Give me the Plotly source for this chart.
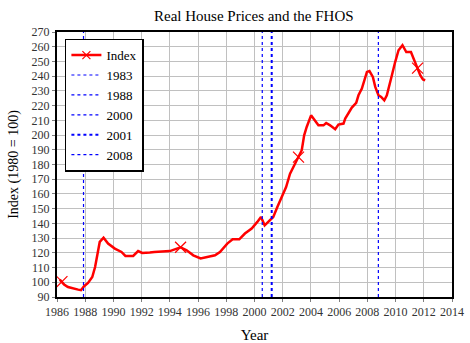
import plotly.graph_objects as go

# Real house price index (1980 = 100), read at irregular dates
years = [1986.2, 1986.35, 1986.5, 1986.78, 1987.1, 1987.5, 1987.7, 1987.92, 1988.2, 1988.5,
         1988.7, 1988.87, 1989.03, 1989.3, 1989.62, 1990.1, 1990.57, 1990.85, 1991.4, 1991.75,
         1992.04, 1992.58, 1992.9, 1994.0, 1994.76, 1995.19, 1995.66, 1996.18, 1997.2, 1997.55,
         1998.07, 1998.45, 1998.92, 1999.32, 1999.8, 2000.2, 2000.46, 2000.72, 2000.98, 2001.33,
         2001.62, 2001.93, 2002.24, 2002.52, 2002.88, 2003.12, 2003.35, 2003.52, 2003.7, 2004.01,
         2004.3, 2004.53, 2004.89, 2005.08, 2005.36, 2005.72, 2005.95, 2006.31, 2006.43, 2006.9,
         2007.21, 2007.37, 2007.61, 2007.8, 2007.97, 2008.15, 2008.39, 2008.56, 2008.79, 2008.98,
         2009.2, 2009.38, 2009.55, 2009.74, 2009.97, 2010.21, 2010.49, 2010.76, 2011.09, 2011.35,
         2011.56, 2011.75, 2011.94, 2012.1]
index_values = [101.8, 100.4, 98.5, 96.8, 95.8, 95.0, 94.6, 97.3, 99.5, 103.6,
                110.4, 119.5, 127.4, 130.3, 126.3, 122.9, 120.6, 117.9, 117.9, 121.2,
                119.9, 120.2, 120.6, 121.2, 123.8, 121.7, 118.3, 116.2, 118.3, 120.6,
                126.3, 129.2, 129.2, 133.1, 136.5, 141.0, 144.4, 138.7, 141.0, 144.4,
                151.1, 157.9, 164.7, 173.8, 180.6, 185.0, 189.7, 199.8, 205.5, 213.4,
                210.0, 206.6, 206.6, 208.2, 206.6, 203.9, 207.1, 207.8, 211.2, 218.7,
                221.8, 227.0, 231.6, 237.2, 242.9, 243.5, 239.5, 232.7, 227.0, 225.9,
                223.6, 227.0, 232.7, 240.6, 249.6, 257.6, 261.0, 256.4, 256.4, 249.6,
                245.5, 240.6, 237.7, 237.2]
marker_years = [1986.35, 1994.76, 2003.12, 2011.56]

# Event markers shown as vertical lines
event_labels = ["1983", "1988", "2000", "2001", "2008"]
event_years = [1983.0, 1987.88, 2000.55, 2001.22, 2008.78]

x_ticks = list(range(1986, 2015, 2))
y_ticks = list(range(90, 271, 10))

SERIF = "Liberation Serif"
RED = "#ff0000"
BLUE = "#0000ff"

fig = go.Figure()

# Legend-only entry for the index (line with cross marker)
fig.add_trace(go.Scatter(
    x=[None], y=[None], mode="lines+markers", name="Index",
    line=dict(color=RED, width=2.5),
    marker=dict(symbol="x-thin", size=8, line=dict(color=RED, width=1.2)),
    legendgroup="idx", showlegend=True,
))
fig.add_trace(go.Scatter(
    x=years, y=index_values, mode="lines", name="Index",
    line=dict(color=RED, width=2.5), legendgroup="idx", showlegend=False,
))
mk_y = [v for x, v in zip(years, index_values) if x in marker_years]
mk_x = [x for x in years if x in marker_years]
fig.add_trace(go.Scatter(
    x=mk_x, y=mk_y, mode="markers", name="Index",
    marker=dict(symbol="x-thin", size=11, line=dict(color=RED, width=1.2)),
    legendgroup="idx", showlegend=False,
))

for lbl, yr in zip(event_labels, event_years):
    fig.add_trace(go.Scatter(
        x=[yr, yr], y=[90, 270], mode="lines", name=lbl,
        line=dict(color=BLUE, width=2 if lbl == "2001" else 1.2, dash="dot"),
    ))

axis_common = dict(
    showgrid=True, gridcolor="#c0c0c0", gridwidth=1,
    showline=True, linecolor="black", linewidth=2, mirror=True,
    zeroline=False, ticks="outside", ticklen=3, tickcolor="#808080",
    tickfont=dict(family=SERIF, size=12, color="#333333"),
    automargin=False,
)

fig.update_layout(
    width=470, height=343,
    margin=dict(l=57, r=18, t=32, b=46),
    paper_bgcolor="white", plot_bgcolor="white",
    title=dict(text="Real House Prices and the FHOS", x=0.54, xanchor="center",
               y=0.955, yanchor="middle",
               font=dict(family=SERIF, size=15, color="black")),
    xaxis=dict(range=[1986, 2014], tickvals=x_ticks, ticktext=[str(t) for t in x_ticks],
               title=dict(text="Year", font=dict(family=SERIF, size=15, color="black"),
                          standoff=18),
               **axis_common),
    yaxis=dict(range=[90, 270], tickvals=y_ticks, ticktext=[str(t) for t in y_ticks],
               title=dict(text="Index (1980 = 100)", font=dict(family=SERIF, size=14, color="black"),
                          standoff=10),
               **axis_common),
    legend=dict(x=0.02, y=0.975, xanchor="left", yanchor="top",
                bgcolor="white", bordercolor="black", borderwidth=1.5,
                font=dict(family=SERIF, size=13, color="black"),
                itemwidth=30, tracegroupgap=0),
    showlegend=True,
)

fig.write_html("out.html")
